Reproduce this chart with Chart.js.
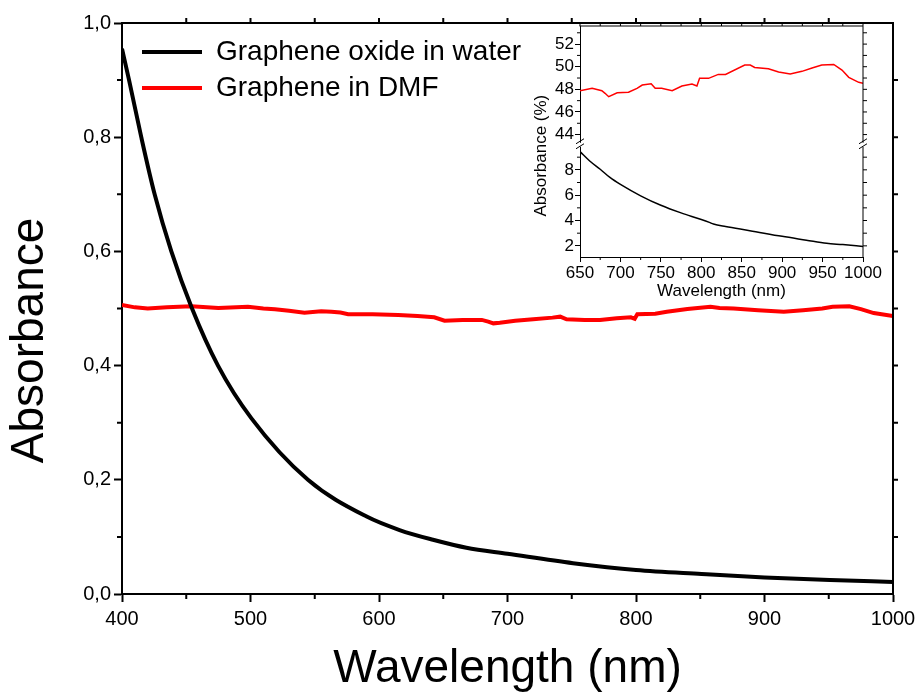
<!DOCTYPE html>
<html><head><meta charset="utf-8">
<script src="https://cdn.jsdelivr.net/npm/chart.js@4.4.0/dist/chart.umd.min.js"></script>
<style>
html,body{margin:0;padding:0;background:#fff;}
#wrap{position:relative;width:922px;height:697px;overflow:hidden;}
#main{position:absolute;left:0;top:0;}
#inset{position:absolute;left:480px;top:0;}
</style></head><body>
<div id="wrap">
<canvas id="main" width="922" height="697"></canvas>
<canvas id="inset" width="420" height="320"></canvas>
</div>
<script>
// ---- main chart data ----
const goWavelength = [400,405.5,415,425.4,438.4,454.5,474.7,500.6,544.7,590,616,642,668,700,751,800,851,900,951,1000];
const goAbsorbance = [0.955,0.900,0.800,0.700,0.600,0.500,0.400,0.308,0.200,0.136,0.112,0.095,0.081,0.0705,0.054,0.042,0.035,0.029,0.0245,0.021];

const dmfWavelength = [400,410,420,435,454,475,498,510,519,530,542,555,563,570,576,595,615,630,643,651,665,680,685,689,694,706,720,735,741,746,760,772,785,796,799,801,815,824,840,858,865,876,895,915,930,945,953,966,975,985,1000];
const dmfAbsorbance = [0.506,0.502,0.500,0.502,0.504,0.501,0.503,0.500,0.4986,0.496,0.4927,0.495,0.4944,0.493,0.490,0.490,0.4886,0.487,0.4846,0.4787,0.480,0.480,0.477,0.474,0.475,0.4787,0.481,0.484,0.4857,0.481,0.480,0.480,0.483,0.4846,0.482,0.490,0.491,0.4944,0.499,0.503,0.501,0.500,0.497,0.4944,0.497,0.500,0.503,0.504,0.499,0.492,0.487];

const mainXTicks = [400,500,600,700,800,900,1000];
const mainXMinorTicks = [450,550,650,750,850,950];
const mainXTopTicks = [450,500,550,600,650,700,750,800,850,900,950];
const mainYTicks = [0,0.2,0.4,0.6,0.8,1.0];
const mainYMinorTicks = [0.1,0.3,0.5,0.7,0.9];
const mainYRightTicks = [0.1,0.2,0.3,0.4,0.5,0.6,0.7,0.8,0.9];

// ---- inset data ----
const insetGoWavelength = [650,662,675,687,700,725,750,775,800,810,815,830,860,900,930,955,975,1000];
const insetGoPercent = [9.44,8.7,8.05,7.4,6.85,5.95,5.2,4.6,4.08,3.85,3.72,3.52,3.2,2.75,2.45,2.2,2.1,1.95];

const insetDmfWavelength = [650,665,677,681,685.5,696,710,720.5,727,738,743,751,764,776,788.5,794.6,797.9,809,821,830,853.7,860.6,866,883,895.6,910,924.5,937,949,963.8,974,982.4,994.7,1000];
const insetDmfPercent = [47.88,48.09,47.88,47.65,47.35,47.7,47.74,48.09,48.38,48.5,48.09,48.09,47.88,48.29,48.47,48.29,48.97,48.97,49.32,49.32,50.15,50.15,49.94,49.82,49.53,49.35,49.59,49.88,50.15,50.2,49.7,49.06,48.62,48.53];

const insetXTicks = [650,700,750,800,850,900,950,1000];
const insetXMinorTicks = [675,725,775,825,875,925,975];
const insetUpperTicks = [44,46,48,50,52];
const insetUpperMinorTicks = [45,47,49,51,53];
const insetLowerTicks = [2,4,6,8];
const insetLowerMinorTicks = [3,5,7,9];

const FAMILY = "'Liberation Sans', Arial, Helvetica, sans-serif";
Chart.defaults.font.family = FAMILY;
Chart.defaults.color = '#000';

function pts(xs, ys){ return xs.map((x,i)=>({x:x, y:ys[i]})); }
function setTicks(arr){ return s => { s.ticks = arr.map(v=>({value:v})); }; }

const legendPos = {
  id:'legendPos',
  beforeDraw(chart, args, o){
    const lg = chart.legend;
    if (!lg || o.dx === undefined) return;
    const h = lg.bottom - lg.top;
    lg.left = chart.chartArea.left + o.dx;
    lg.top = chart.chartArea.top + o.dy;
    lg.bottom = lg.top + h;
  }
};

const decor = {
  id:'decor',
  afterDraw(chart, args, o){
    const {ctx, chartArea:a} = chart;
    const xs = chart.scales.x;
    ctx.save();
    ctx.strokeStyle = '#000';
    ctx.lineWidth = o.width;
    ctx.lineCap = 'butt';
    ctx.beginPath();
    ctx.moveTo(a.left - o.width/2, a.top);
    ctx.lineTo(a.right, a.top);
    ctx.lineTo(a.right, a.bottom);
    ctx.stroke();
    ctx.lineWidth = o.tickWidth;
    ctx.beginPath();
    for (const v of o.xMinor){ const p = xs.getPixelForValue(v); ctx.moveTo(p,a.bottom); ctx.lineTo(p,a.bottom+o.minorLen); }
    for (const v of o.xTop){ const p = xs.getPixelForValue(v); ctx.moveTo(p,a.top); ctx.lineTo(p,a.top-o.topLen); }
    for (const ax of o.yAxes){
      const ys = chart.scales[ax.id];
      for (const v of ax.minor){ const p = ys.getPixelForValue(v); ctx.moveTo(a.left,p); ctx.lineTo(a.left-o.minorLen,p); }
      for (const v of ax.right){ const p = ys.getPixelForValue(v); ctx.moveTo(a.right,p); ctx.lineTo(a.right+ax.rightLen,p); }
    }
    ctx.stroke();
    if (o.breakAt){
      const yb = chart.scales[o.breakAt].bottom;
      ctx.fillStyle = '#fff';
      for (const x of [a.left, a.right]){
        ctx.fillRect(x-2, yb-2, 4, 4);
      }
      ctx.lineWidth = 1;
      ctx.beginPath();
      for (const x of [a.left, a.right]){
        ctx.moveTo(x-4, yb-1); ctx.lineTo(x+4, yb-6);
        ctx.moveTo(x-4, yb+4); ctx.lineTo(x+4, yb-1);
      }
      ctx.stroke();
    }
    ctx.restore();
  }
};

new Chart(document.getElementById('main'), {
  type:'line',
  data:{datasets:[
    {label:'Graphene oxide in water', data:pts(goWavelength, goAbsorbance), borderColor:'#000000', backgroundColor:'#000000', borderWidth:4, pointRadius:0, cubicInterpolationMode:'monotone'},
    {label:'Graphene in DMF', data:pts(dmfWavelength, dmfAbsorbance), borderColor:'#ff0000', backgroundColor:'#ff0000', borderWidth:4, pointRadius:0, tension:0}
  ]},
  options:{
    responsive:false, animation:false, devicePixelRatio:1,
    layout:{padding:{top:23,right:29,bottom:0,left:0}},
    scales:{
      x:{type:'linear', min:400, max:1000,
        afterBuildTicks:setTicks(mainXTicks), afterFit:s=>{s.height=103;},
        ticks:{font:{size:20}, color:'#000', padding:5, maxRotation:0, autoSkip:false, callback:v=>String(v)},
        grid:{drawOnChartArea:false, drawTicks:true, tickLength:8, tickWidth:2, tickColor:'#000'},
        border:{display:true, color:'#000', width:2},
        title:{display:true, text:'Wavelength (nm)', font:{size:46}, color:'#000', padding:{top:0,bottom:0}}},
      y:{type:'linear', min:0, max:1,
        afterBuildTicks:setTicks(mainYTicks), afterFit:s=>{s.width=122;},
        ticks:{font:{size:20}, color:'#000', padding:3, autoSkip:false, callback:v=>v.toFixed(1).replace('.',',')},
        grid:{drawOnChartArea:false, drawTicks:true, tickLength:8, tickWidth:2, tickColor:'#000'},
        border:{display:true, color:'#000', width:2},
        title:{display:true, text:'Absorbance     ', font:{size:46}, color:'#000', padding:{top:3,bottom:0}}}
    },
    plugins:{
      tooltip:{enabled:false},
      legend:{position:'chartArea', align:'start',
        labels:{boxWidth:60, boxHeight:4, padding:8, font:{size:28}, color:'#000',
          generateLabels:chart=>chart.data.datasets.map((d,i)=>({text:d.label, fillStyle:d.borderColor, strokeStyle:d.borderColor, lineWidth:0, hidden:false, datasetIndex:i, fontColor:'#000'}))}},
      legendPos:{dx:12, dy:7},
      decor:{width:2, tickWidth:2, minorLen:5, topLen:5, xMinor:mainXMinorTicks, xTop:mainXTopTicks,
        yAxes:[{id:'y', minor:mainYMinorTicks, right:mainYRightTicks, rightLen:5}]}
    }
  },
  plugins:[legendPos, decor]
});

new Chart(document.getElementById('inset'), {
  type:'line',
  data:{datasets:[
    {label:'Graphene in DMF', data:pts(insetDmfWavelength, insetDmfPercent), yAxisID:'yUp', borderColor:'#ff0000', borderWidth:1.5, pointRadius:0, tension:0},
    {label:'Graphene oxide in water', data:pts(insetGoWavelength, insetGoPercent), yAxisID:'yLow', borderColor:'#000000', borderWidth:1.5, pointRadius:0, cubicInterpolationMode:'monotone'}
  ]},
  options:{
    responsive:false, animation:false, devicePixelRatio:1,
    layout:{padding:{top:26,right:37,bottom:0,left:0}},
    scales:{
      x:{type:'linear', min:650, max:1000,
        afterBuildTicks:setTicks(insetXTicks), afterFit:s=>{s.height=63;},
        ticks:{font:{size:17}, color:'#000', padding:1, maxRotation:0, autoSkip:false, callback:v=>String(v)},
        grid:{drawOnChartArea:false, drawTicks:true, tickLength:5, tickWidth:1, tickColor:'#000'},
        border:{display:true, color:'#000', width:1},
        title:{display:true, text:'Wavelength (nm)', font:{size:17}, color:'#000', padding:{top:0,bottom:18}}},
      yTitle:{type:'linear', position:'left', weight:1, display:true, afterFit:s=>{s.width=72;},
        ticks:{display:false}, grid:{display:false}, border:{display:false},
        title:{display:true, text:'Absorbance (%)      ', font:{size:17}, color:'#000', padding:{top:51,bottom:0}}},
      yLow:{type:'linear', position:'left', stack:'inset', stackWeight:112, min:1.12, max:9.98,
        afterBuildTicks:setTicks(insetLowerTicks), afterFit:s=>{s.width=28;},
        ticks:{font:{size:17}, color:'#000', padding:1, autoSkip:false, callback:v=>String(v)},
        grid:{drawOnChartArea:false, drawTicks:true, tickLength:5, tickWidth:1, tickColor:'#000'},
        border:{display:true, color:'#000', width:1}},
      yUp:{type:'linear', position:'left', stack:'inset', stackWeight:118.5, min:43.1, max:53.6,
        afterBuildTicks:setTicks(insetUpperTicks), afterFit:s=>{s.width=28;},
        ticks:{font:{size:17}, color:'#000', padding:1, autoSkip:false, callback:v=>String(v)},
        grid:{drawOnChartArea:false, drawTicks:true, tickLength:5, tickWidth:1, tickColor:'#000'},
        border:{display:true, color:'#000', width:1}}
    },
    plugins:{
      tooltip:{enabled:false}, legend:{display:false},
      decor:{width:1, tickWidth:1, minorLen:3, topLen:3, xMinor:insetXMinorTicks, xTop:insetXTicks.concat(insetXMinorTicks),
        yAxes:[{id:'yUp', minor:insetUpperMinorTicks, right:insetUpperTicks.concat(insetUpperMinorTicks), rightLen:4},
               {id:'yLow', minor:insetLowerMinorTicks, right:insetLowerTicks.concat(insetLowerMinorTicks), rightLen:4}],
        breakAt:'yUp'}
    }
  },
  plugins:[decor]
});
</script>
</body></html>
